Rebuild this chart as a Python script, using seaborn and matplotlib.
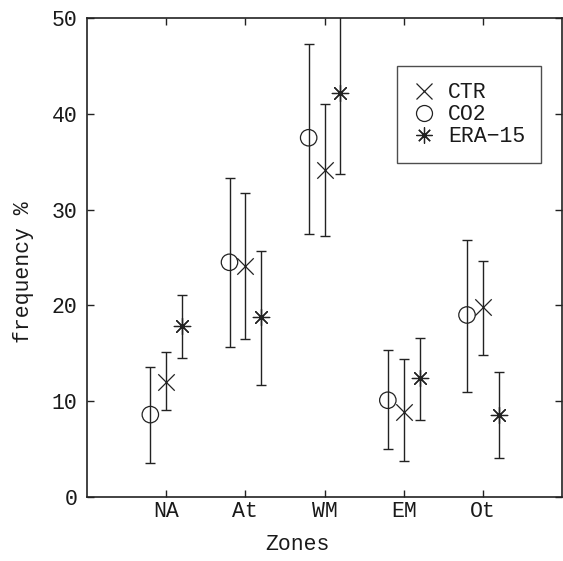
import numpy as np
import pandas as pd
import matplotlib
matplotlib.use("Agg")
import matplotlib.pyplot as plt
import seaborn as sns

zones = ["NA", "At", "WM", "EM", "Ot"]

ctr_mean = [12.0, 24.1, 34.1, 8.9, 19.8]
ctr_low = [9.1, 16.5, 27.2, 3.8, 14.8]
ctr_high = [15.1, 31.7, 41.0, 14.4, 24.6]

co2_mean = [8.6, 24.5, 37.5, 10.1, 19.0]
co2_low = [3.6, 15.7, 27.5, 5.0, 11.0]
co2_high = [13.6, 33.3, 47.3, 15.3, 26.8]

era_mean = [17.8, 18.8, 42.2, 12.4, 8.6]
era_low = [14.5, 11.7, 33.7, 8.0, 4.1]
era_high = [21.1, 25.7, 50.7, 16.6, 13.0]

sns.set_theme(style="ticks")
plt.rcParams["font.family"] = ["Liberation Mono", "DejaVu Sans Mono"]
plt.rcParams["mathtext.default"] = "regular"

fig = plt.figure(figsize=(5.63, 5.61), dpi=100)
ax = fig.add_axes([87 / 563, 1 - 497 / 561, 475 / 563, 479 / 561])

ink = "#222222"
txt = "#1a1a1a"
fs = 15.5
series = [
    ("CTR", ctr_mean, ctr_low, ctr_high, 0.0, "x", {}),
    ("CO2", co2_mean, co2_low, co2_high, -0.2, "o", {"facecolors": "none"}),
    ("ERA\u221215", era_mean, era_low, era_high, 0.2, (8, 2, 0), {}),
]

base = np.arange(1, len(zones) + 1)
handles = {}
for name, mean, low, high, shift, marker, extra in series:
    df = pd.DataFrame({"x": base + shift, "y": mean,
                       "lo": low, "hi": high})
    ax.errorbar(df["x"], df["y"],
                yerr=[df["y"] - df["lo"], df["hi"] - df["y"]],
                fmt="none", ecolor=ink, elinewidth=1.0,
                capsize=3.5, capthick=1.0, zorder=2)
    sns.scatterplot(data=df, x="x", y="y", marker=marker, s=140,
                    color=ink, edgecolor=ink, linewidth=0.9,
                    ax=ax, zorder=3, legend=False, **extra)
    handles[name] = plt.Line2D([], [], linestyle="none", marker=marker,
                               markersize=11.5, markeredgewidth=0.9,
                               color=ink, markerfacecolor="none")

order = ["CTR", "CO2", "ERA\u221215"]
leg = ax.legend([handles[k] for k in order], order,
                loc="upper left", bbox_to_anchor=(0.653, 0.9),
                borderaxespad=0, frameon=True, fancybox=False,
                fontsize=fs, handlelength=1.0, handletextpad=0.6,
                labelspacing=0.05, borderpad=0.75)
leg.get_frame().set_edgecolor(ink)
leg.get_frame().set_linewidth(1.0)
leg.get_frame().set_facecolor("white")
for t in leg.get_texts():
    t.set_color(txt)

ax.set_xlim(0, 6)
ax.set_ylim(0, 50)
ax.set_xticks(base)
ax.set_xticklabels(zones)
ax.set_yticks([0, 10, 20, 30, 40, 50])
ax.tick_params(direction="in", length=5, width=1.0, colors=ink,
               labelsize=fs, top=True, right=True)
ax.tick_params(axis="x", labelcolor=txt, pad=3)
ax.tick_params(axis="y", labelcolor=txt, pad=7)
for s in ax.spines.values():
    s.set_color(ink)
    s.set_linewidth(1.2)

ax.set_xlabel("Zones", fontsize=fs, color=txt)
ax.set_ylabel("frequency %", fontsize=fs, color=txt)
ax.xaxis.set_label_coords((297 - 87) / 475, -0.078)
ax.yaxis.set_label_coords(-0.112, (497 - 272) / 479)

fig.savefig("out.png", dpi=100)
